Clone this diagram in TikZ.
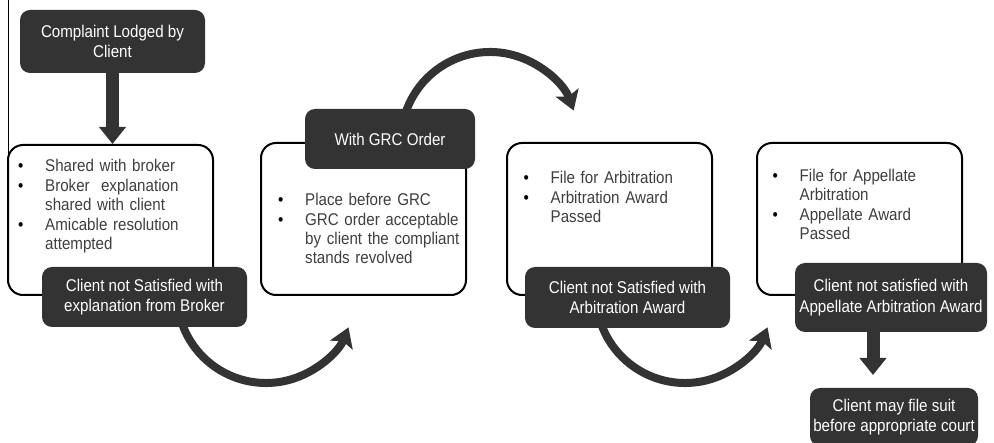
\documentclass[tikz,border=0pt]{standalone}
\usepackage{fontspec}
\setmainfont[FakeStretch=0.89]{Liberation Sans}
\usetikzlibrary{arrows.meta}
\definecolor{dk}{HTML}{333333}
\definecolor{tg}{HTML}{3F3F3F}
\newcommand{\bitem}[1]{\hangindent=27pt\hangafter=1\noindent\makebox[27pt][l]{\textcolor{black}{\textbullet}}#1\par}
\begin{document}
\begin{tikzpicture}[x=1pt,y=-1pt,
  darkbox/.style={fill=dk, rounded corners=10pt, text=white, align=center, inner sep=0pt, font=\fontsize{17}{20.5}\selectfont},
  whitebox/.style={draw=black, line width=2pt, fill=white, rounded corners=15pt, inner sep=0pt, minimum width=205pt},
  listtext/.style={anchor=north west, inner sep=0pt, text width=185pt, align=left, text=tg, font=\fontsize{17}{19}\selectfont\setlength{\parskip}{1pt}},
  flow/.style={draw=dk, line width=8pt, -{Stealth[length=19pt,width=24pt,inset=4pt]}},
  downarrow/.style={draw=dk, line width=13pt, -{Triangle[length=17pt,width=26pt]}}]
\useasboundingbox (0,0) rectangle (994,443);

% stray left line
\coordinate (l1) at (8,0);
\coordinate (l2) at (8,192);
\draw[line width=0.8pt] (l1) -- (l2);

% curved flow arrows
\coordinate (ca) at (266,294);
\coordinate (cb) at (490,141);
\coordinate (cc) at (685,294);
\draw[flow] (ca) ++(160:89) arc[start angle=160, end angle=22, radius=89];
\draw[flow] (cb) ++(-162:89) arc[start angle=-162, end angle=-20, radius=89];
\draw[flow] (cc) ++(160:89) arc[start angle=160, end angle=22, radius=89];

% white boxes
\node[whitebox, minimum height=150pt] (w1) at (110.5,220) {};
\node[whitebox, minimum height=152pt] (w2) at (363.5,219) {};
\node[whitebox, minimum height=152pt] (w3) at (609.5,219) {};
\node[whitebox, minimum height=152pt] (w4) at (859.5,219) {};

% lists
\node[listtext] (t1) at (18,158.5) {\bitem{Shared with broker}\bitem{Broker\ \ explanation\newline shared with client}\bitem{Amicable resolution\newline attempted}};
\node[listtext] (t2) at (278,192.5) {\bitem{Place before GRC}\bitem{GRC order acceptable\newline by client the compliant\newline stands revolved}};
\node[listtext] (t3) at (523.5,170.5) {\bitem{File for Arbitration}\bitem{Arbitration Award\newline Passed}};
\node[listtext] (t4) at (772.5,168.5) {\bitem{File for Appellate\newline Arbitration}\bitem{Appellate Award\newline Passed}};

% dark boxes
\node[darkbox, minimum width=185pt, minimum height=63pt] (d1) at (112.5,41.5) {Complaint Lodged by\\Client};
\node[darkbox, minimum width=205pt, minimum height=60pt] (d2) at (144.5,297) {Client not Satisfied with\\explanation from Broker};
\node[darkbox, minimum width=170pt, minimum height=60pt] (g) at (390,139) {With GRC Order};
\node[darkbox, minimum width=205pt, minimum height=61pt] (d3) at (627.5,297.5) {Client not Satisfied with\\Arbitration Award};
\node[darkbox, minimum width=192pt, minimum height=69pt] (d4) at (891,297.5) {Client not satisfied with\\Appellate Arbitration Award};
\node[darkbox, minimum width=168pt, minimum height=58pt] (d5) at (894,417) {Client may file suit\\before appropriate court};

% straight down arrows
\draw[downarrow] (d1.south) -- (d1.south |- w1.north);
\coordinate (a5e) at (873,375);
\draw[downarrow] (d4.south -| a5e) -- (a5e);
\end{tikzpicture}
\end{document}
